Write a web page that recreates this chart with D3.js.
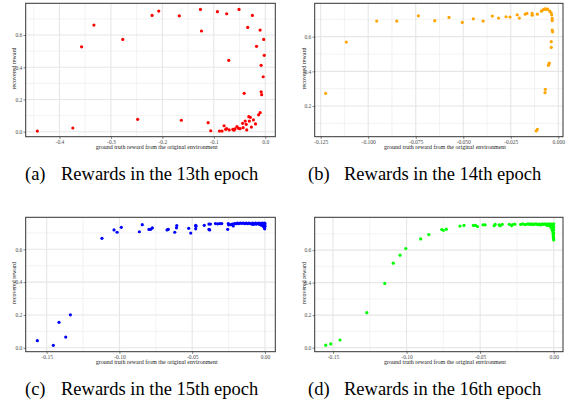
<!DOCTYPE html>
<html><head><meta charset="utf-8">
<script src="https://cdn.jsdelivr.net/npm/d3@7"></script>
<style>body{margin:0;background:#fff}svg{display:block}text{font-family:"Liberation Serif","Times New Roman",serif}</style>
</head><body>
<svg id="chart" width="566" height="404"></svg>
<script>
// ---------- data ----------
const epoch13 = [[-0.443,0.004],[-0.374,0.023],[-0.357,0.527],[-0.333,0.662],[-0.277,0.573],[-0.248,0.077],[-0.220,0.722],[-0.207,0.749],[-0.167,0.719],[-0.163,0.071],[-0.126,0.759],[-0.124,0.625],[-0.111,0.056],[-0.106,0.006],[-0.093,0.745],[-0.075,0.732],[-0.071,0.443],[-0.051,0.759],[-0.025,0.722],[-0.034,0.647],[-0.010,0.631],[-0.003,0.573],[-0.017,0.530],[-0.002,0.474],[-0.008,0.412],[-0.004,0.341],[-0.008,0.248],[-0.007,0.230],[-0.041,0.238],[-0.010,0.118],[-0.013,0.105],
[-0.089,0.004],[-0.084,0.004],[-0.080,0.037],[-0.077,0.015],[-0.075,0.019],[-0.070,0.011],[-0.063,0.015],[-0.061,0.009],[-0.059,0.017],[-0.055,0.031],[-0.052,0.021],[-0.049,0.019],[-0.043,0.025],[-0.044,0.052],[-0.039,0.066],[-0.036,0.011],[-0.037,0.046],[-0.032,0.093],[-0.029,0.089],[-0.031,0.066],[-0.027,0.029],[-0.023,0.073],[-0.019,0.048]];
const epoch14 = [[-0.1224,0.273],[-0.1115,0.569],[-0.0955,0.690],[-0.085,0.690],[-0.0736,0.720],[-0.065,0.692],[-0.0575,0.711],[-0.0505,0.682],[-0.0447,0.703],[-0.0395,0.690],[-0.0347,0.719],[-0.0314,0.707],[-0.0275,0.715],[-0.0254,0.713],[-0.0216,0.726],[-0.0205,0.707],[-0.0174,0.730],[-0.0165,0.734],[-0.0138,0.734],[-0.0137,0.724],[-0.011,0.730],[-0.0089,0.747],[-0.008,0.755],[-0.0074,0.759],[-0.0068,0.760],[-0.0062,0.757],[-0.0056,0.759],[-0.0045,0.747],[-0.0038,0.738],[-0.0035,0.726],[-0.0032,0.705],[-0.0032,0.692],[-0.0032,0.638],[-0.0030,0.628],[-0.0037,0.571],[-0.0037,0.538],[-0.0049,0.444],[-0.0052,0.435],[-0.0047,0.448],[-0.0068,0.296],[-0.0070,0.277],[-0.0110,0.066],[-0.0116,0.056]];
const epoch15 = [[-0.1564,0.043],[-0.1454,0.015],[-0.1415,0.155],[-0.1369,0.065],[-0.1337,0.201],[-0.1120,0.667],[-0.1037,0.718],[-0.1016,0.704],[-0.0987,0.734],[-0.0863,0.707],[-0.0843,0.750],[-0.0797,0.721],[-0.0785,0.722],[-0.0774,0.730],[-0.0673,0.718],[-0.0664,0.722],[-0.0620,0.704],[-0.0608,0.731],[-0.0606,0.745],[-0.0524,0.728],[-0.0510,0.699],[-0.0476,0.725],[-0.0474,0.740],[-0.0476,0.746],[-0.0417,0.746],[-0.0385,0.754],[-0.0375,0.754],[-0.0385,0.721],[-0.0380,0.718],[-0.0340,0.757],[-0.0325,0.755],[-0.0311,0.757],[-0.0297,0.757],[-0.0256,0.722],[-0.0252,0.757],[-0.0250,0.749],[-0.0218,0.742],
[-0.0235,0.750],[-0.0225,0.754],[-0.021,0.757],[-0.0198,0.756],[-0.019,0.759],[-0.018,0.757],[-0.017,0.760],[-0.016,0.758],[-0.015,0.760],[-0.014,0.757],[-0.013,0.759],[-0.012,0.756],[-0.011,0.760],[-0.010,0.757],[-0.009,0.754],[-0.0085,0.759],[-0.008,0.751],[-0.007,0.757],[-0.0065,0.760],[-0.006,0.753],[-0.005,0.758],[-0.0045,0.755],[-0.004,0.760],[-0.0035,0.751],[-0.003,0.757],[-0.0025,0.747],[-0.002,0.760],[-0.0018,0.753],[-0.0015,0.744],[-0.0012,0.758],[-0.001,0.750],[-0.0008,0.738],[-0.0006,0.755],[-0.0005,0.745],[-0.0004,0.732],[-0.0003,0.760],[-0.0002,0.725],[-0.0001,0.748],[0,0.757],[0,0.740]];
const epoch16 = [[-0.1549,0.015],[-0.1515,0.023],[-0.1452,0.047],[-0.127,0.215],[-0.1148,0.395],[-0.109,0.520],[-0.1044,0.569],[-0.1005,0.610],[-0.0904,0.669],[-0.0849,0.696],[-0.0761,0.727],[-0.0750,0.722],[-0.0730,0.729],[-0.0637,0.748],[-0.0610,0.752],[-0.0546,0.752],[-0.0532,0.752],[-0.0518,0.745],[-0.0480,0.756],[-0.0466,0.756],[-0.0405,0.750],[-0.0398,0.758],[-0.0371,0.756],[-0.0364,0.750],[-0.0350,0.758],[-0.0302,0.759],[-0.0286,0.751],[-0.0280,0.757],[-0.0264,0.760],
[-0.0225,0.758],[-0.021,0.761],[-0.0195,0.757],[-0.018,0.760],[-0.017,0.762],[-0.016,0.758],[-0.015,0.761],[-0.014,0.757],[-0.013,0.760],[-0.012,0.762],[-0.011,0.757],[-0.010,0.760],[-0.009,0.755],[-0.008,0.761],[-0.007,0.758],[-0.006,0.762],[-0.005,0.755],[-0.0045,0.760],[-0.004,0.752],[-0.0035,0.758],[-0.003,0.762],[-0.0025,0.748],[-0.002,0.756],[-0.0018,0.740],[-0.0015,0.760],[-0.0012,0.732],[-0.001,0.752],[-0.0009,0.722],[-0.0008,0.745],[-0.0006,0.712],[-0.0005,0.735],[-0.0004,0.700],[-0.0003,0.690],[-0.0002,0.680],[-0.0001,0.672],[0,0.663],[0,0.705],[0,0.725],[0,0.745],[0,0.762]];

const xTicksA = [-0.4,-0.3,-0.2,-0.1,0.0];
const xLabelsA = ["-0.4","-0.3","-0.2","-0.1","0.0"];
const xTicksB = [-0.125,-0.100,-0.075,-0.050,-0.025,0.000];
const xLabelsB = ["-0.125","-0.100","-0.075","-0.050","-0.025","0.000"];
const xTicksCD = [-0.15,-0.10,-0.05,0.00];
const xLabelsCD = ["-0.15","-0.10","-0.05","0.00"];
const yTicksACD = [0.0,0.2,0.4,0.6];
const yLabelsACD = ["0.0","0.2","0.4","0.6"];
const yTicksB = [0.2,0.4,0.6];
const yLabelsB = ["0.2","0.4","0.6"];
const xTitle = "ground truth reward from the original environment";
const yTitle = "recovered reward";
const captionTags = ["(a)","(b)","(c)","(d)"];
const captionTexts = ["Rewards in the 13th epoch","Rewards in the 14th epoch","Rewards in the 15th epoch","Rewards in the 16th epoch"];

// ---------- layout ----------
const panels = [
  {data:epoch13,color:"#ff0000",box:[25.7,3.3,275.3,136.7],xd:[-0.4656,0.0195],yd:[-0.031,0.797],xt:xTicksA,xl:xLabelsA,xstep:0.1,yt:yTicksACD,yl:yLabelsACD,xtc:156.7,ytx:16.3},
  {data:epoch14,color:"#ffa500",box:[314.7,3.3,563,136.7],xd:[-0.12814,0.00247],yd:[0.023,0.7925],xt:xTicksB,xl:xLabelsB,xstep:0.025,yt:yTicksB,yl:yLabelsB,xtc:445,ytx:305.7},
  {data:epoch15,color:"#0000ff",box:[25.7,217.3,275.3,351.7],xd:[-0.1644,0.0071],yd:[-0.024,0.795],xt:xTicksCD,xl:xLabelsCD,xstep:0.05,yt:yTicksACD,yl:yLabelsACD,xtc:156.7,ytx:16.3},
  {data:epoch16,color:"#00ff00",box:[314.7,217.3,563,351.7],xd:[-0.1624,0.0063],yd:[-0.025,0.802],xt:xTicksCD,xl:xLabelsCD,xstep:0.05,yt:yTicksACD,yl:yLabelsACD,xtc:445,ytx:305.7}
];
const captionPos = [[25,61,180],[308,344,180],[25,61,395],[308,344,395]];
const captionSize = 18.5;

const svg = d3.select("#chart");
const serif = '"Liberation Serif","Times New Roman",serif';

panels.forEach((p,i)=>{
  const [x0,y0,x1,y1] = p.box;
  const x = d3.scaleLinear().domain(p.xd).range([x0,x1]);
  const y = d3.scaleLinear().domain(p.yd).range([y1,y0]);
  const g = svg.append("g");
  g.append("rect").attr("x",x0).attr("y",y0).attr("width",x1-x0).attr("height",y1-y0).attr("fill","#fff");
  const xs = p.xstep/2;
  const xMinor = d3.range(Math.ceil(p.xd[0]/xs), Math.floor(p.xd[1]/xs)+1).map(k=>k*xs).filter(v=>!p.xt.some(t=>Math.abs(t-v)<1e-9));
  const yMinor = d3.range(Math.ceil(p.yd[0]/0.1), Math.floor(p.yd[1]/0.1)+1).map(k=>k*0.1).filter(v=>!p.yt.some(t=>Math.abs(t-v)<1e-9)).filter(v=>v>=0);
  g.selectAll(".xm").data(xMinor).join("line").attr("x1",d=>x(d)).attr("x2",d=>x(d)).attr("y1",y0).attr("y2",y1).attr("stroke","#ebebeb").attr("stroke-width",0.6);
  g.selectAll(".ym").data(yMinor).join("line").attr("y1",d=>y(d)).attr("y2",d=>y(d)).attr("x1",x0).attr("x2",x1).attr("stroke","#ebebeb").attr("stroke-width",0.6);
  g.selectAll(".xg").data(p.xt).join("line").attr("x1",d=>x(d)).attr("x2",d=>x(d)).attr("y1",y0).attr("y2",y1).attr("stroke","#e6e6e6").attr("stroke-width",1.1);
  g.selectAll(".yg").data(p.yt).join("line").attr("y1",d=>y(d)).attr("y2",d=>y(d)).attr("x1",x0).attr("x2",x1).attr("stroke","#e6e6e6").attr("stroke-width",1.1);
  g.selectAll("circle").data(p.data).join("circle").attr("cx",d=>x(d[0])).attr("cy",d=>y(d[1])).attr("r",1.6).attr("fill",p.color);
  g.append("rect").attr("x",x0).attr("y",y0).attr("width",x1-x0).attr("height",y1-y0).attr("fill","none").attr("stroke","#333").attr("stroke-width",1);
  const xa = d3.axisBottom(x).tickValues(p.xt).tickFormat((d,k)=>p.xl[k]).tickSize(2.2).tickPadding(1.2);
  const gx = g.append("g").attr("transform",`translate(0,${y1})`).call(xa);
  gx.attr("font-family",null).style("font-family",serif);
  gx.select(".domain").remove();
  gx.selectAll("line").attr("stroke","#333").attr("stroke-width",0.6);
  gx.selectAll("text").style("font-family",serif).attr("font-size",5.5).attr("fill","#4d4d4d");
  const ya = d3.axisLeft(y).tickValues(p.yt).tickFormat((d,k)=>p.yl[k]).tickSize(2.2).tickPadding(1.2);
  const gy = g.append("g").attr("transform",`translate(${x0},0)`).call(ya);
  gy.attr("font-family",null).style("font-family",serif);
  gy.select(".domain").remove();
  gy.selectAll("line").attr("stroke","#333").attr("stroke-width",0.6);
  gy.selectAll("text").style("font-family",serif).attr("font-size",5.5).attr("fill","#4d4d4d");
  g.append("text").attr("x",p.xtc).attr("y",y1+12).attr("text-anchor","middle").style("font-family",serif).attr("font-size",6).attr("fill","#222").text(xTitle);
  g.append("text").attr("transform",`translate(${p.ytx},${(y0+y1)/2-1.5}) rotate(-90)`).attr("text-anchor","middle").style("font-family",serif).attr("font-size",6).attr("fill","#222").text(yTitle);
  const c = captionPos[i];
  svg.append("text").attr("x",c[0]).attr("y",c[2]).style("font-family",serif).attr("font-size",captionSize).attr("fill","#000").text(captionTags[i]);
  svg.append("text").attr("x",c[1]).attr("y",c[2]).style("font-family",serif).attr("font-size",captionSize).attr("fill","#000").text(captionTexts[i]);
});
</script>
</body></html>
